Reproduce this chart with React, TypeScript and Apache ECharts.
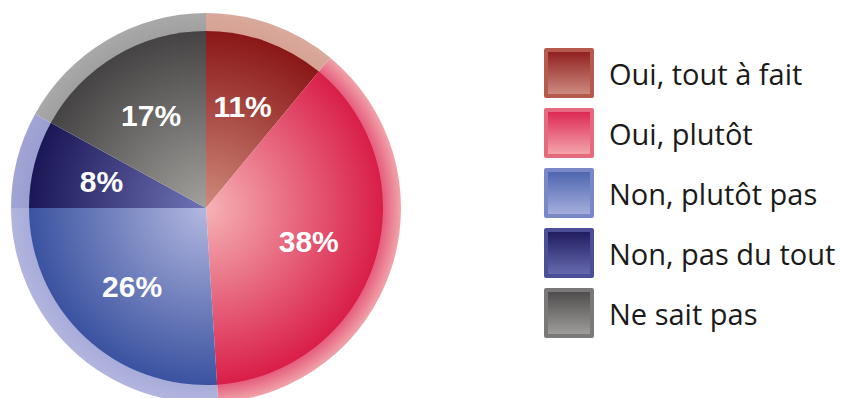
import React, { useEffect, useRef } from "react";
import * as echarts from "echarts";

const categories = ["Oui, tout à fait", "Oui, plutôt", "Non, plutôt pas", "Non, pas du tout", "Ne sait pas"];
const values = [11, 38, 26, 8, 17];
// inner slice gradient: [centre colour, edge colour]
const innerColors = [
  ["#cf8a7c", "#8a1717"],
  ["#f6b3b6", "#d91e48"],
  ["#b3b8e0", "#3a52a0"],
  ["#7074b6", "#1b1757"],
  ["#a3a19d", "#454343"],
];
const ringColors = ["#d9a99c", "#f1a4aa", "#b2b5de", "#a1a4d4", "#a9a9a9"];
const ringInnerColors = ["#d6a193", "#e4577a", "#a7abd8", "#9a9dd0", "#9f9f9f"];
// legend swatch: [top, bottom, border]
const legendColors = [
  ["#8e1c1c", "#cf8f84", "#b65a4e"],
  ["#dc2350", "#f5aab0", "#e56a80"],
  ["#4a63ad", "#a9b1df", "#7a88c8"],
  ["#1d195c", "#6a6db2", "#4c4f98"],
  ["#4b4a4a", "#a2a09d", "#7a7878"],
];

const CX = 206;
const CY = 208;

export default function App() {
  const ref = useRef<HTMLDivElement>(null);
  useEffect(() => {
    const chart = echarts.init(ref.current!, undefined, { renderer: "svg" });
    const ringData = categories.map((name, i) => ({
      name,
      value: values[i],
      itemStyle: {
        color: {
          type: "radial",
          x: CX,
          y: CY,
          r: 195,
          global: true,
          colorStops: [
            { offset: 0.9, color: ringInnerColors[i] },
            { offset: 1, color: ringColors[i] },
          ],
        },
      },
    }));
    const innerData = categories.map((name, i) => ({
      name,
      value: values[i],
      itemStyle: {
        color: {
          type: "radial",
          x: CX,
          y: CY,
          r: 177,
          global: true,
          colorStops: [
            { offset: 0, color: innerColors[i][0] },
            { offset: 1, color: innerColors[i][1] },
          ],
        },
      },
    }));
    const labelData = categories.map((name, i) => ({ name, value: values[i] }));
    chart.setOption({
      animation: false,
      backgroundColor: "#ffffff",
      legend: {
        orient: "vertical",
        left: 544,
        top: 48,
        padding: 0,
        itemWidth: 46,
        itemHeight: 46,
        itemGap: 10,
        icon: "rect",
        selectedMode: false,
        textStyle: {
          fontFamily: "Open Sans",
          fontSize: 29,
          lineHeight: 32,
          color: "#1a1a1a",
          padding: [0, 0, 0, 12],
        },
        data: categories.map((name, i) => ({
          name,
          itemStyle: {
            color: {
              type: "linear",
              x: 0,
              y: 0,
              x2: 0,
              y2: 1,
              colorStops: [
                { offset: 0, color: legendColors[i][0] },
                { offset: 1, color: legendColors[i][1] },
              ],
            },
            borderColor: legendColors[i][2],
            borderWidth: 4,
          },
        })),
      },
      series: [
        {
          type: "pie",
          name: "ring",
          radius: [175, 195],
          center: [CX, CY],
          startAngle: 90,
          clockwise: true,
          silent: true,
          label: { show: false },
          labelLine: { show: false },
          data: ringData,
        },
        {
          type: "pie",
          name: "inner",
          radius: [0, 177],
          center: [CX, CY],
          startAngle: 90,
          clockwise: true,
          silent: true,
          label: { show: false },
          labelLine: { show: false },
          data: innerData,
        },
        {
          type: "pie",
          name: "labels",
          radius: [33, 177],
          center: [CX, CY],
          startAngle: 90,
          clockwise: true,
          silent: true,
          itemStyle: { color: "rgba(0,0,0,0)" },
          label: {
            show: true,
            position: "inside",
            formatter: "{c}%",
            color: "#ffffff",
            fontFamily: "Liberation Sans",
            fontWeight: "bold",
            fontSize: 30,
          },
          labelLine: { show: false },
          data: labelData,
        },
      ],
    });
    return () => chart.dispose();
  }, []);
  return (
    <div
      ref={ref}
      style={{ position: "absolute", left: 0, top: 0, width: 842, height: 398 }}
    />
  );
}
